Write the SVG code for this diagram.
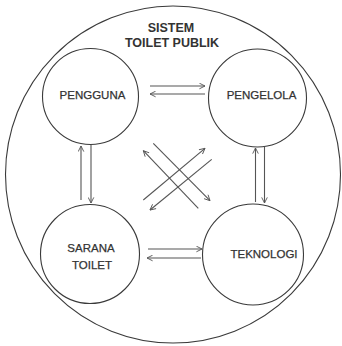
<svg xmlns="http://www.w3.org/2000/svg" width="342" height="346" viewBox="0 0 342 346">
<style>
.c{fill:none;stroke:#3a3a3a;stroke-width:1.1}
.t{font-family:"Liberation Sans",Arial,sans-serif;font-size:11.5px;fill:#333;stroke:#333;stroke-width:0.25;text-anchor:middle}
.h{font-family:"Liberation Sans",Arial,sans-serif;font-size:12.5px;font-weight:bold;fill:#333;text-anchor:middle}
.a{stroke:#555;stroke-width:1.1;fill:none;marker-end:url(#ah)}
</style>
<defs>
<marker id="ah" viewBox="0 0 10 10" refX="9" refY="5" markerWidth="7" markerHeight="7" orient="auto" markerUnits="userSpaceOnUse">
<path d="M1,1 L9,5 L1,9" fill="none" stroke="#555" stroke-width="1.3"/>
</marker>
</defs>
<rect width="342" height="346" fill="#fff"/>
<g id="sistem">
<ellipse class="c" cx="173" cy="174.5" rx="167.5" ry="168.5"/>
<text class="h" x="171" y="32">SISTEM</text>
<text class="h" x="172" y="47">TOILET PUBLIK</text>
</g>
<g id="pengguna">
<circle class="c" cx="90.5" cy="96.5" r="48"/>
<text class="t" x="92.5" y="98.5">PENGGUNA</text>
</g>
<g id="pengelola">
<circle class="c" cx="257.5" cy="98" r="49"/>
<text class="t" x="261.5" y="99">PENGELOLA</text>
</g>
<g id="sarana">
<circle class="c" cx="90" cy="254" r="49.5"/>
<text class="t" x="91" y="252">SARANA</text>
<text class="t" x="92" y="269">TOILET</text>
</g>
<g id="teknologi">
<circle class="c" cx="253" cy="254.5" r="50.5"/>
<text class="t" x="264" y="258">TEKNOLOGI</text>
</g>
<g id="connectors">
<line class="a" x1="150" y1="86" x2="205" y2="86"/>
<line class="a" x1="205" y1="94" x2="150" y2="94"/>
<line class="a" x1="148" y1="249" x2="202" y2="249"/>
<line class="a" x1="201" y1="258" x2="147" y2="258"/>
<line class="a" x1="81" y1="200" x2="81" y2="146"/>
<line class="a" x1="91" y1="145" x2="91" y2="203"/>
<line class="a" x1="255.5" y1="202" x2="255.5" y2="148"/>
<line class="a" x1="264.5" y1="147" x2="264.5" y2="203"/>
<line class="a" x1="198.3" y1="208.3" x2="143.3" y2="150.7"/>
<line class="a" x1="153.3" y1="143.3" x2="210" y2="200.7"/>
<line class="a" x1="143.3" y1="200" x2="205" y2="148.3"/>
<line class="a" x1="211.7" y1="159.3" x2="150" y2="210"/>
</g>
</svg>
